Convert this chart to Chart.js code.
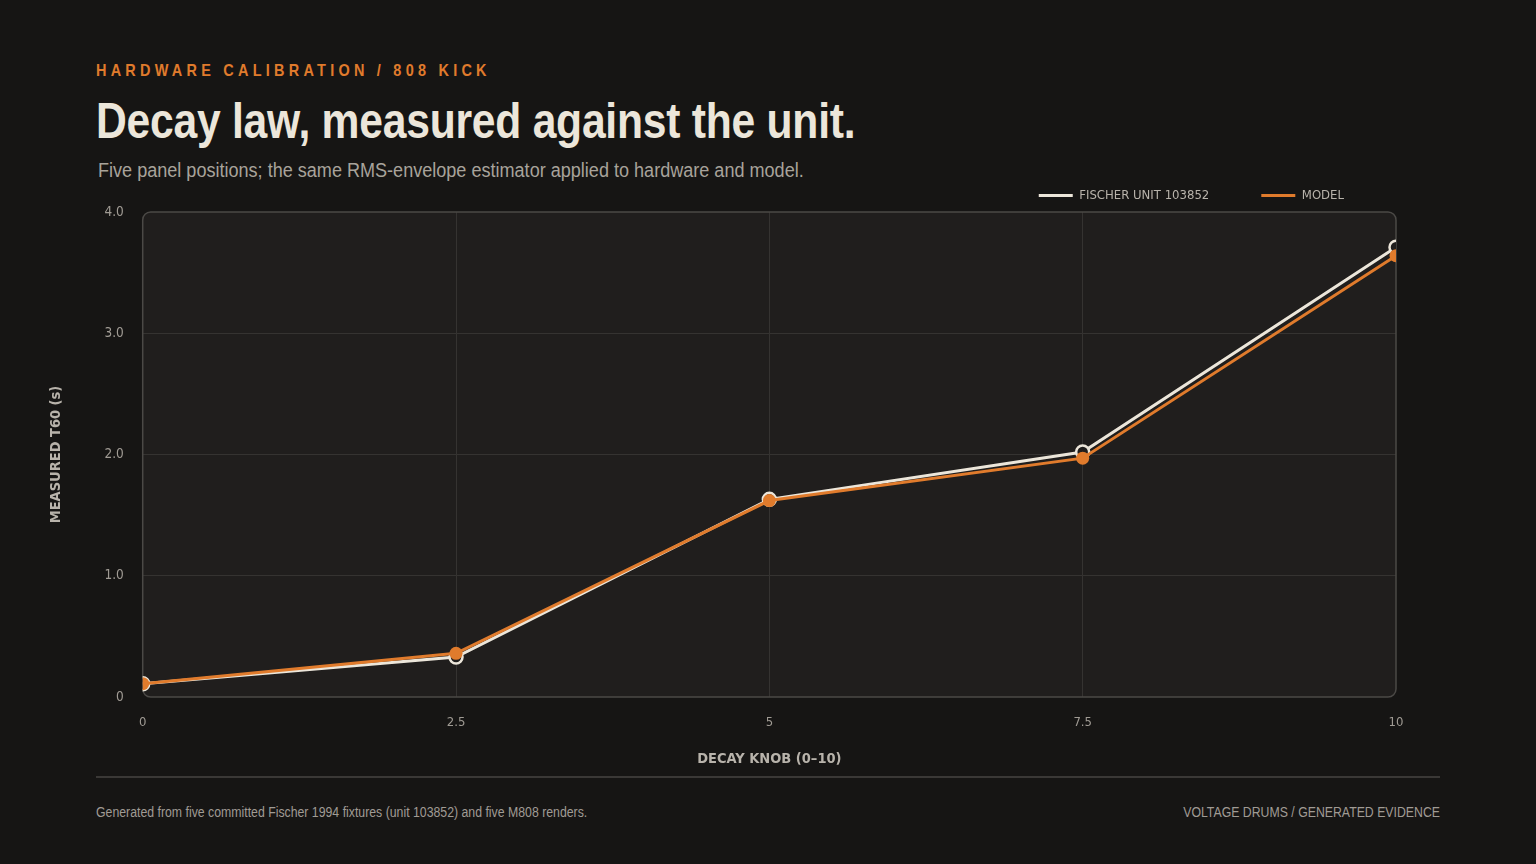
<!DOCTYPE html>
<html>
<head>
<meta charset="utf-8">
<script src="https://cdn.jsdelivr.net/npm/chart.js@4.4.1/dist/chart.umd.min.js"></script>
<style>
  html, body { margin: 0; padding: 0; background: #161514; }
  body { width: 1536px; height: 864px; position: relative; overflow: hidden;
         font-family: 'Liberation Sans', Arial, sans-serif; }
  .n { position: absolute; white-space: nowrap; transform-origin: 0 0; }
  .kicker { left: 96px; top: 61px; font-size: 17px; font-weight: bold;
            letter-spacing: 5px; color: #e07b2c; transform: scaleX(0.85); }
  .title { left: 96px; top: 92px; font-size: 50px; font-weight: bold;
           color: #ece6da; letter-spacing: -0.3px; transform: scaleX(0.853); }
  .sub { left: 98px; top: 159px; font-size: 20px; color: #a8a39b; transform: scaleX(0.903); }
  .rule { position: absolute; left: 96px; top: 776px; width: 1344px; height: 2px; background: #3a3836; }
  .foot { top: 804px; font-size: 14px; color: #a09b94; transform: scaleX(0.878); }
  #wrap { position: absolute; left: 48px; top: 137px; width: 1388px; height: 631px; }
</style>
</head>
<body>
<div class="n kicker">HARDWARE CALIBRATION / 808 KICK</div>
<div class="n title">Decay law, measured against the unit.</div>
<div class="n sub">Five panel positions; the same RMS-envelope estimator applied to hardware and model.</div>
<div id="wrap"><canvas id="c"></canvas></div>
<div class="rule"></div>
<div class="n foot" style="left:96px">Generated from five committed Fischer 1994 fixtures (unit 103852) and five M808 renders.</div>
<div class="n foot" style="left:1440px; transform-origin: 100% 0; transform: translateX(-100%) scaleX(0.878);">VOLTAGE DRUMS / GENERATED EVIDENCE</div>
<script>
const knob = [0, 2.5, 5, 7.5, 10];
const hardware = [0.11, 0.33, 1.63, 2.02, 3.71];
const model = [0.11, 0.36, 1.62, 1.97, 3.64];
const yTicks = [0, 1, 2, 3, 4];

const FONT = "'DejaVu Sans Condensed', 'Liberation Sans', sans-serif";
const ORANGE = '#e07b2c';
const CREAM = '#ece6da';

// plot panel: filled rounded box behind the grid, outline before the lines
const panel = {
  id: 'panel',
  beforeDraw(chart) {
    const { ctx, chartArea: a } = chart;
    ctx.save();
    ctx.beginPath();
    ctx.roundRect(a.left, a.top, a.width, a.height, 8);
    ctx.fillStyle = '#201e1d';
    ctx.fill();
    ctx.restore();
  },
  beforeDatasetsDraw(chart) {
    const { ctx, chartArea: a } = chart;
    ctx.save();
    ctx.beginPath();
    ctx.roundRect(a.left, a.top, a.width, a.height, 8);
    ctx.strokeStyle = '#4b4946';
    ctx.lineWidth = 1.5;
    ctx.stroke();
    ctx.restore();
  }
};

const edgeless = (min, max) => ctx =>
  (ctx.tick && (ctx.tick.value === min || ctx.tick.value === max)) ? 'transparent' : '#353331';

new Chart(document.getElementById('c'), {
  type: 'line',
  data: {
    datasets: [
      {
        label: 'FISCHER UNIT 103852',
        data: knob.map((x, i) => ({ x, y: hardware[i] })),
        borderColor: CREAM,
        backgroundColor: CREAM,
        borderWidth: 3,
        pointRadius: 6.5,
        pointBorderWidth: 2.5,
        pointBackgroundColor: '#201e1d',
        pointBorderColor: CREAM,
        order: 1
      },
      {
        label: 'MODEL',
        data: knob.map((x, i) => ({ x, y: model[i] })),
        borderColor: ORANGE,
        backgroundColor: ORANGE,
        borderWidth: 3,
        pointRadius: 6.5,
        pointBorderWidth: 0,
        pointBackgroundColor: ORANGE,
        pointBorderColor: ORANGE,
        order: 0
      }
    ]
  },
  options: {
    responsive: true,
    maintainAspectRatio: false,
    animation: false,
    layout: { padding: { right: 40, bottom: 0 } },
    plugins: {
      legend: {
        position: 'top',
        align: 'end',
        fullSize: false,
        labels: {
          color: '#b8b3ab',
          font: { family: FONT, size: 13 },
          boxWidth: 34,
          boxHeight: 0,
          padding: 52,
          sort: (a, b) => a.datasetIndex - b.datasetIndex
        }
      },
      tooltip: { enabled: false }
    },
    scales: {
      x: {
        type: 'linear',
        min: 0,
        max: 10,
        afterBuildTicks: s => { s.ticks = knob.map(v => ({ value: v })); },
        grid: { color: edgeless(0, 10), drawTicks: false },
        border: { display: false },
        ticks: {
          color: '#a09b94',
          font: { family: FONT, size: 13 },
          padding: 18,
          callback: v => String(v)
        },
        title: {
          display: true,
          text: 'DECAY KNOB (0–10)',
          color: '#b8b3ab',
          font: { family: FONT, size: 14.5, weight: 'bold' },
          padding: { top: 2, bottom: 0 }
        }
      },
      y: {
        min: 0,
        max: 4,
        afterBuildTicks: s => { s.ticks = yTicks.map(v => ({ value: v })); },
        grid: { color: edgeless(0, 4), drawTicks: false },
        border: { display: false },
        ticks: {
          color: '#a09b94',
          font: { family: FONT, size: 13.5 },
          padding: 19,
          callback: v => v === 0 ? '0' : v.toFixed(1)
        },
        title: {
          display: true,
          text: 'MEASURED T60 (s)',
          color: '#b8b3ab',
          font: { family: FONT, size: 14.5, weight: 'bold' },
          padding: { top: 0, bottom: 20 }
        }
      }
    }
  },
  plugins: [panel]
});
</script>
</body>
</html>
